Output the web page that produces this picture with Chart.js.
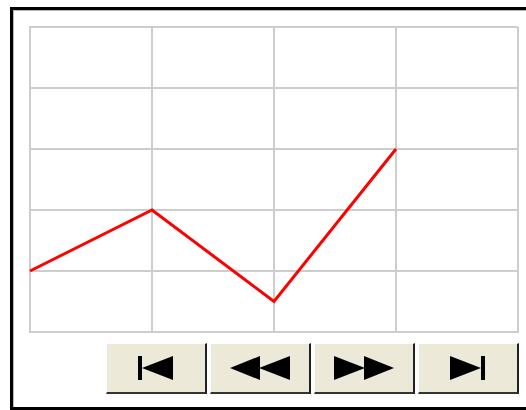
<!DOCTYPE html>
<html>
<head>
<meta charset="utf-8">
<script src="https://cdn.jsdelivr.net/npm/chart.js@4"></script>
<style>
  html, body { margin: 0; padding: 0; background: #fff; overflow: hidden; width: 526px; height: 410px; }
  .frame {
    position: absolute; left: 10px; top: 7px; width: 600px; height: 397px;
    border: 3px solid #000; box-shadow: inset 1px 1px 0 #b8b8b8;
  }
  .plot { position: absolute; left: 26px; top: 23px; width: 496px; height: 313px; }
  .btn {
    position: absolute; top: 343px; width: 98px; height: 48px;
    background: #ece9d8; box-sizing: content-box;
    border-top: 1px solid #fff; border-left: 1px solid #fff;
    border-right: 2px solid #222; border-bottom: 2px solid #333;
    display: flex; align-items: center; justify-content: center;
  }
  .btn svg { display: block; }
</style>
</head>
<body>
<div class="frame"></div>
<div class="plot"><canvas id="lineChart"></canvas></div>

<div class="btn" style="left:106px">
  <svg width="36" height="24" viewBox="0 0 36 24"><rect x="0" y="0" width="4" height="24" fill="#000"/><polygon points="4,12 35,0 35,24" fill="#000"/></svg>
</div>
<div class="btn" style="left:210px">
  <svg width="60" height="24" viewBox="0 0 60 24"><polygon points="0,12 30,0 30,24" fill="#000"/><polygon points="29,12 60,0 60,24" fill="#000"/></svg>
</div>
<div class="btn" style="left:314px">
  <svg width="60" height="24" viewBox="0 0 60 24"><polygon points="0,0 31,12 0,24" fill="#000"/><polygon points="30,0 60,12 30,24" fill="#000"/></svg>
</div>
<div class="btn" style="left:418px">
  <svg width="36" height="24" viewBox="0 0 36 24"><polygon points="0,0 31,12 0,24" fill="#000"/><rect x="31" y="0" width="4" height="24" fill="#000"/></svg>
</div>

<script>
// five slots along x, only the first four have a reading
const steps = ['1', '2', '3', '4', '5'];
const readings = [1, 2, 0.5, 3, null];
const yTicks = [0, 1, 2, 3, 4, 5];

const gridColor = '#cdcdcd';

new Chart(document.getElementById('lineChart'), {
  type: 'line',
  data: {
    labels: steps,
    datasets: [{
      data: readings,
      borderColor: '#ff0000',
      backgroundColor: '#ff0000',
      borderWidth: 3,
      fill: false,
      tension: 0,
      pointRadius: 0,
    }]
  },
  options: {
    responsive: true,
    maintainAspectRatio: false,
    animation: false,
    layout: { padding: 4 },
    scales: {
      x: {
        offset: false,
        grid: { color: gridColor, lineWidth: 2, drawTicks: false },
        border: { color: gridColor, width: 2 },
        ticks: { display: false },
        afterFit: (scale) => { scale.height = 0; },
      },
      y: {
        min: yTicks[0],
        max: yTicks[yTicks.length - 1],
        afterBuildTicks: (scale) => { scale.ticks = yTicks.map(v => ({ value: v })); },
        grid: { color: gridColor, lineWidth: 2, drawTicks: false },
        border: { color: gridColor, width: 2 },
        ticks: { display: false },
        afterFit: (scale) => { scale.width = 0; },
      }
    },
    plugins: {
      legend: { display: false },
      tooltip: { enabled: false },
    }
  }
});
</script>
</body>
</html>
